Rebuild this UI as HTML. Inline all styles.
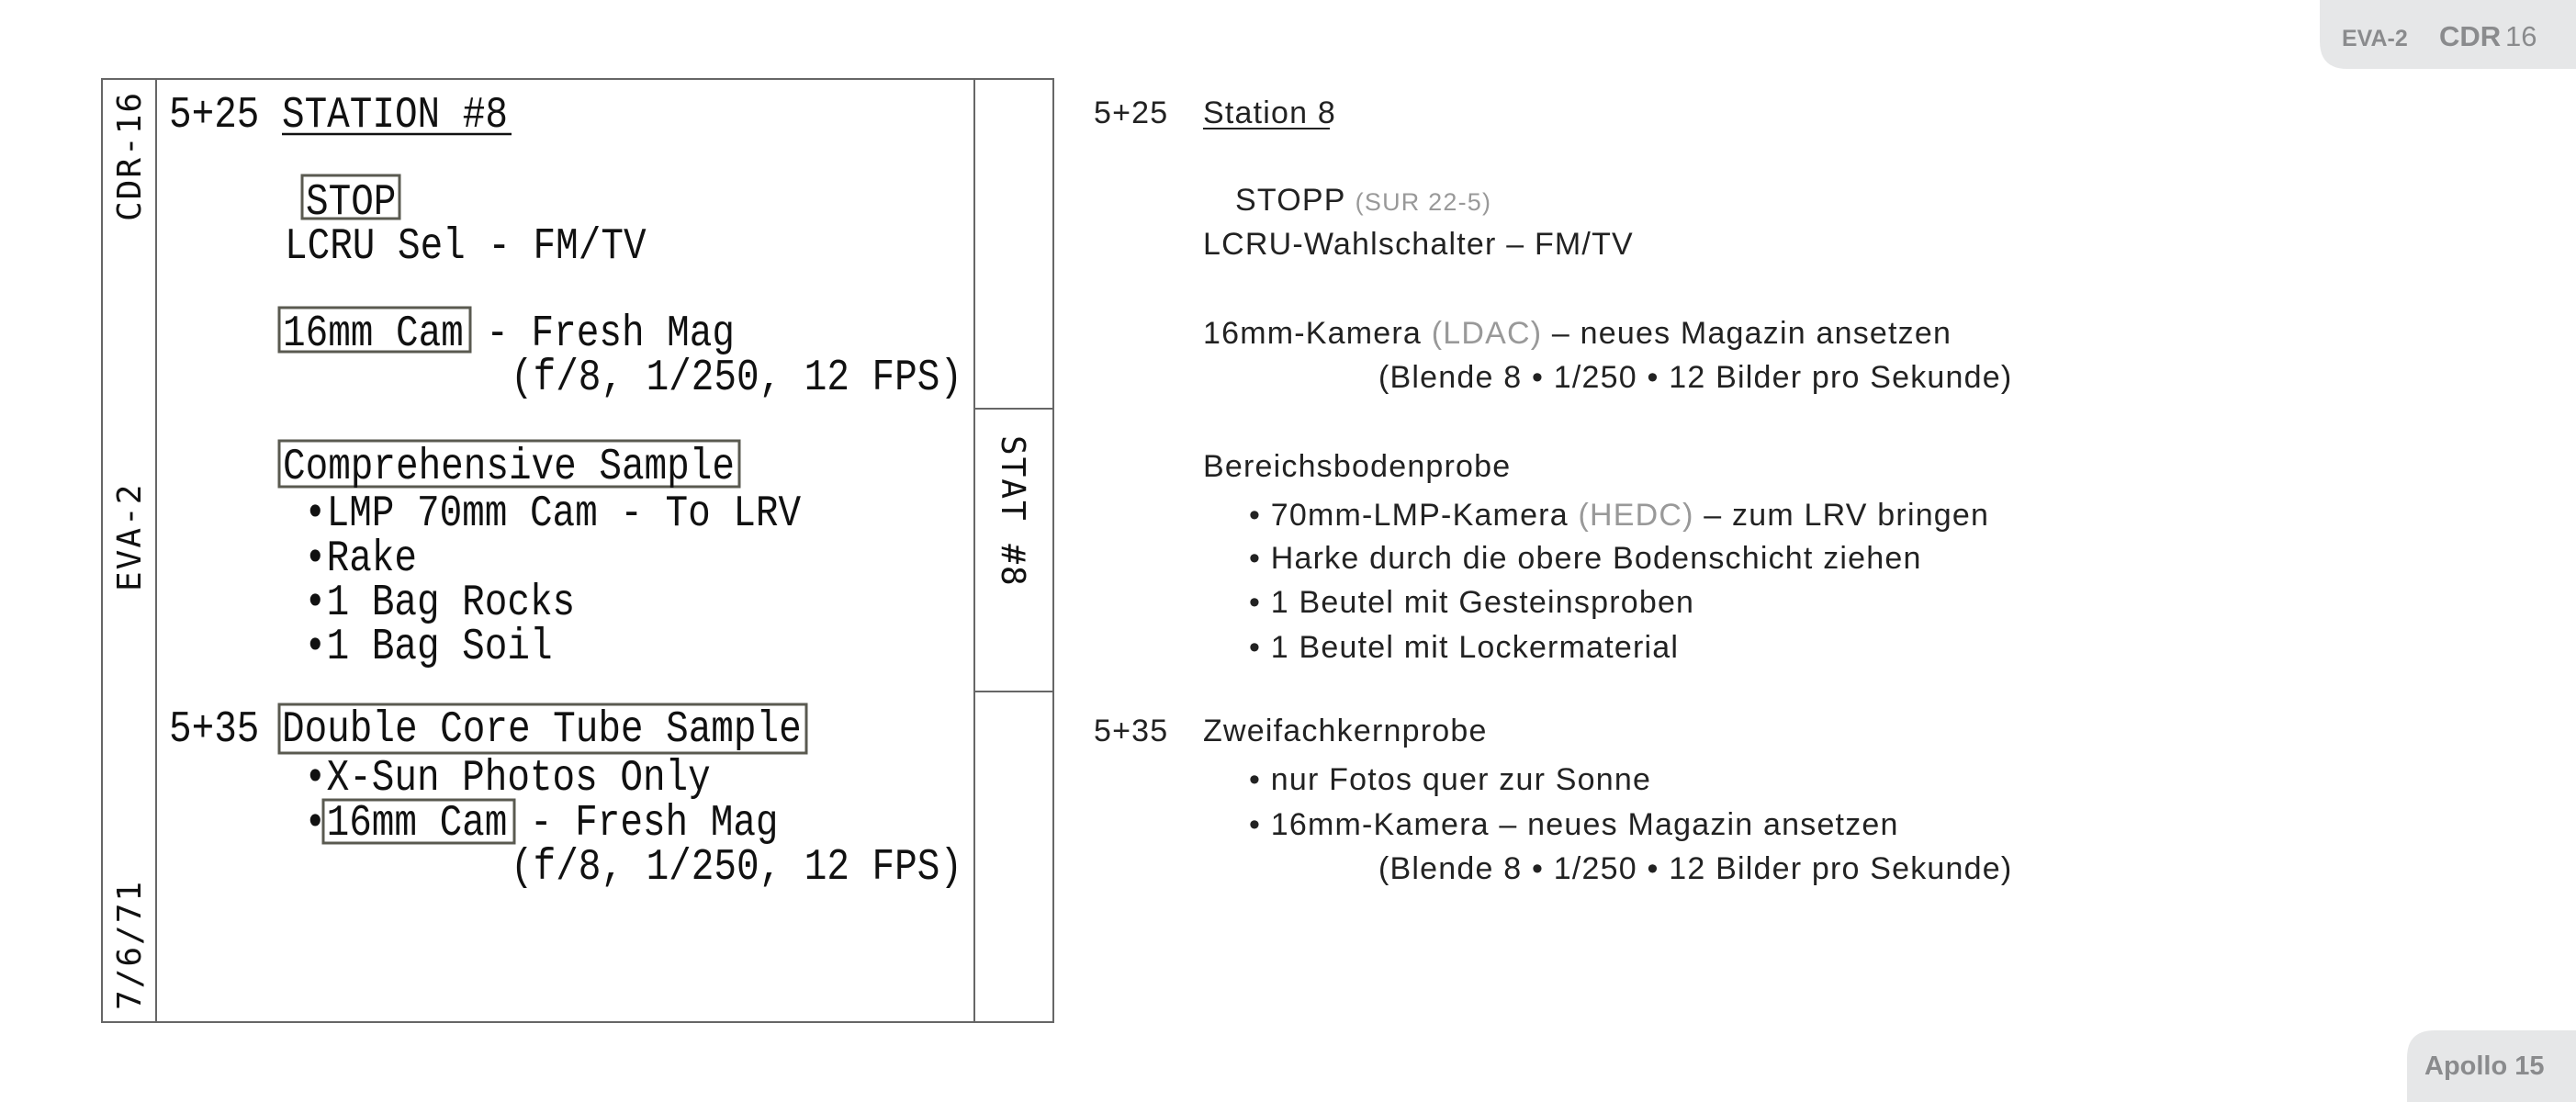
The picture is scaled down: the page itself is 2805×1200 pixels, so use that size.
<!DOCTYPE html>
<html><head><meta charset="utf-8"><style>
html,body{margin:0;padding:0;background:#fff;}
svg{display:block}
.m{font-family:"Liberation Mono",monospace;font-size:41px;fill:#111;}
.v{font-family:"DejaVu Sans Mono","Liberation Mono",monospace;font-size:36px;fill:#111;letter-spacing:2px}
.s{font-family:"Liberation Sans",sans-serif;font-size:34px;letter-spacing:1.2px;fill:#222;}
.g{fill:#999;}
</style></head><body>
<svg width="2805" height="1200" viewBox="0 0 2805 1200" xmlns="http://www.w3.org/2000/svg">
<path d="M2526 0 H2805 V75 H2556 Q2526 75 2526 45 Z" fill="#e6e7e8"/>
<text x="2550" y="50" font-family="Liberation Sans,sans-serif" font-weight="bold" font-size="25" fill="#8a8b8d">EVA-2</text>
<text x="2656" y="50" font-family="Liberation Sans,sans-serif" font-weight="bold" font-size="31" fill="#8a8b8d">CDR</text>
<text x="2728" y="50" font-family="Liberation Sans,sans-serif" font-size="31" fill="#8a8b8d">16</text>
<path d="M2651 1122 H2805 V1200 H2621 V1152 Q2621 1122 2651 1122 Z" fill="#e6e7e8"/>
<text x="2640" y="1170" font-family="Liberation Sans,sans-serif" font-weight="bold" font-size="29" fill="#8a8b8d">Apollo 15</text>

<g fill="none" stroke="#666" stroke-width="2">
<rect x="111" y="86" width="1036" height="1027"/>
<line x1="170" y1="86" x2="170" y2="1113"/>
<line x1="1061" y1="86" x2="1061" y2="1113"/>
<line x1="1061" y1="445" x2="1147" y2="445"/>
<line x1="1061" y1="753" x2="1147" y2="753"/>
</g>
<text class="v" transform="translate(153,241) rotate(-90)">CDR-16</text>
<text class="v" transform="translate(153,644) rotate(-90)">EVA-2</text>
<text class="v" transform="translate(153,1100) rotate(-90)">7/6/71</text>
<text class="v" font-size="38" transform="translate(1091,474) rotate(90)">STAT #8</text>

<g fill="none" stroke="#5a5a50" stroke-width="3">
<rect x="329" y="191" width="106" height="47"/>
<rect x="304" y="335" width="208" height="48"/>
<rect x="304" y="480" width="501" height="50"/>
<rect x="304" y="767" width="574" height="53"/>
<rect x="352" y="871" width="208" height="47"/>
</g>
<line x1="307" y1="146" x2="557" y2="146" stroke="#111" stroke-width="2.5"/>

<g class="m">
<text transform="translate(184,138) scale(1,1.18)">5+25 STATION #8</text>
<text transform="translate(333,233) scale(1,1.18)">STOP</text>
<text transform="translate(310,281) scale(1,1.18)">LCRU Sel - FM/TV</text>
<text transform="translate(308,376) scale(1,1.18)">16mm Cam - Fresh Mag</text>
<text transform="translate(556,424) scale(1,1.18)">(f/8, 1/250, 12 FPS)</text>
<text transform="translate(308,521) scale(1,1.18)">Comprehensive Sample</text>
<text transform="translate(331,572) scale(1,1.18)">•LMP 70mm Cam - To LRV</text>
<text transform="translate(331,621) scale(1,1.18)">•Rake</text>
<text transform="translate(331,669) scale(1,1.18)">•1 Bag Rocks</text>
<text transform="translate(331,717) scale(1,1.18)">•1 Bag Soil</text>
<text transform="translate(184,807) scale(1,1.18)">5+35 Double Core Tube Sample</text>
<text transform="translate(331,860) scale(1,1.18)">•X-Sun Photos Only</text>
<text transform="translate(331,909) scale(1,1.18)">•16mm Cam - Fresh Mag</text>
<text transform="translate(556,957) scale(1,1.18)">(f/8, 1/250, 12 FPS)</text>
</g>

<g class="s">
<text x="1191" y="134">5+25</text>
<text x="1310" y="134">Station 8</text>
<line x1="1310" y1="140" x2="1448" y2="140" stroke="#222" stroke-width="2"/>
<text x="1345" y="229">STOPP <tspan class="g" font-size="27">(SUR 22-5)</tspan></text>
<text x="1310" y="277">LCRU-Wahlschalter  –  FM/TV</text>
<text x="1310" y="374">16mm-Kamera <tspan class="g">(LDAC)</tspan>  –  neues Magazin ansetzen</text>
<text x="1501" y="422">(Blende 8 • 1/250 • 12 Bilder pro Sekunde)</text>
<text x="1310" y="519">Bereichsbodenprobe</text>
<text x="1360" y="572">• 70mm-LMP-Kamera <tspan class="g">(HEDC)</tspan>  –  zum LRV bringen</text>
<text x="1360" y="619">• Harke durch die obere Bodenschicht ziehen</text>
<text x="1360" y="667">• 1 Beutel mit Gesteinsproben</text>
<text x="1360" y="716">• 1 Beutel mit Lockermaterial</text>
<text x="1191" y="807">5+35</text>
<text x="1310" y="807">Zweifachkernprobe</text>
<text x="1360" y="860">• nur Fotos quer zur Sonne</text>
<text x="1360" y="909">• 16mm-Kamera  –  neues Magazin ansetzen</text>
<text x="1501" y="957">(Blende 8 • 1/250 • 12 Bilder pro Sekunde)</text>
</g>
</svg>
</body></html>
